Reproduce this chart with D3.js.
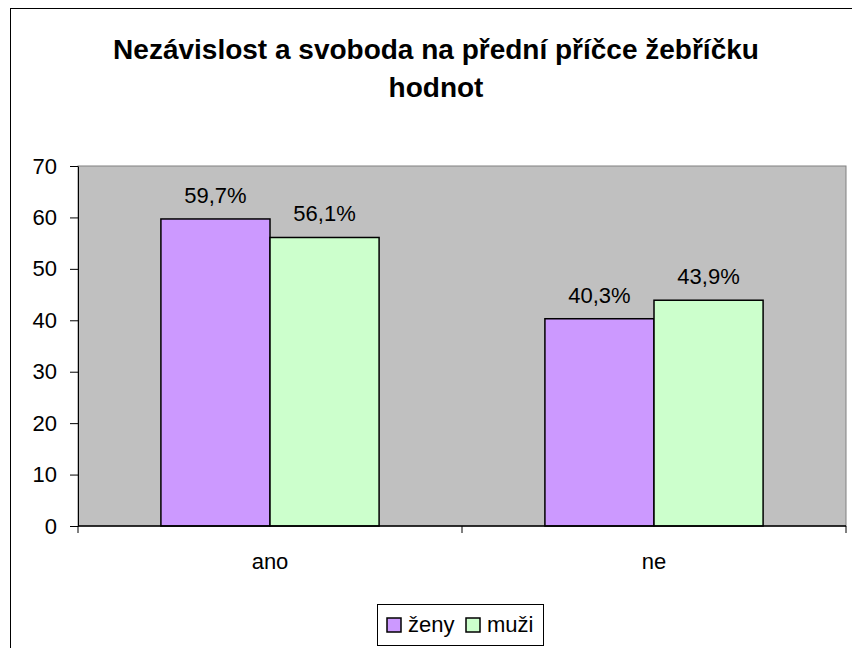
<!DOCTYPE html>
<html>
<head>
<meta charset="utf-8">
<script src="https://cdn.jsdelivr.net/npm/d3@7"></script>
<style>
  html, body { margin: 0; padding: 0; background: #fff; }
  svg { display: block; font-family: Arial, 'Liberation Sans', sans-serif; }
</style>
</head>
<body>
<svg id="chart" width="852" height="648"></svg>
<script>
(function () {
  'use strict';

  const TITLE = ['Nezávislost a svoboda na přední příčce žebříčku', 'hodnot'];
  const CATEGORIES = ['ano', 'ne'];
  const SERIES = ['ženy', 'muži'];
  const ZENY = [59.7, 40.3];
  const MUZI = [56.1, 43.9];
  const Y_TICKS = [0, 10, 20, 30, 40, 50, 60, 70];
  const COLORS = ['#cc99ff', '#ccffcc'];

  const values = [ZENY, MUZI];
  const W = 852, H = 648;
  const plot = { left: 78, right: 846, top: 166, bottom: 526 };
  const FS = '22px';

  const svg = d3.select('#chart');

  // chart frame (runs off the picture on right and bottom)
  svg.append('rect')
    .attr('x', 10.5).attr('y', 8.5).attr('width', W + 20).attr('height', H + 20)
    .attr('fill', '#fff').attr('stroke', '#000').attr('stroke-width', 1);

  // title
  svg.append('text')
    .attr('text-anchor', 'middle')
    .style('font-size', '28px').style('font-weight', 'bold')
    .selectAll('tspan').data(TITLE).enter().append('tspan')
    .attr('x', 436).attr('y', (_, i) => 59 + i * 38)
    .text((d) => d);

  const y = d3.scaleLinear().domain([0, 70]).range([plot.bottom, plot.top]);
  const x0 = d3.scaleBand().domain(CATEGORIES).range([plot.left, plot.right]);
  const x1 = d3.scaleBand().domain(SERIES).range([0, x0.bandwidth()]).paddingOuter(0.76);

  // plot area
  svg.append('rect')
    .attr('x', plot.left).attr('y', plot.top)
    .attr('width', plot.right - plot.left).attr('height', plot.bottom - plot.top)
    .attr('fill', '#c0c0c0').attr('stroke', '#808080').attr('stroke-width', 1);

  // bars
  const groups = svg.selectAll('g.cat').data(CATEGORIES).enter().append('g')
    .attr('class', 'cat')
    .attr('transform', (c) => `translate(${x0(c)},0)`);

  groups.each(function (c, ci) {
    const g = d3.select(this);
    SERIES.forEach((s, si) => {
      const v = values[si][ci];
      g.append('rect')
        .attr('x', x1(s)).attr('y', y(v))
        .attr('width', x1.bandwidth()).attr('height', y(0) - y(v))
        .attr('fill', COLORS[si]).attr('stroke', '#000').attr('stroke-width', 1.5);
      g.append('text')
        .attr('x', x1(s) + x1.bandwidth() / 2).attr('y', y(v) - 16)
        .attr('text-anchor', 'middle')
        .style('font-size', FS).style('fill', '#000')
        .text(v.toFixed(1).replace('.', ',') + '%');
    });
  });

  // y axis
  const yAxis = svg.append('g')
    .attr('transform', `translate(${plot.left},0)`)
    .call(d3.axisLeft(y).tickValues(Y_TICKS).tickSize(8).tickPadding(13).tickSizeOuter(0));
  yAxis.selectAll('text').style('font-size', FS).style('fill', '#000')
    .style('font-family', 'Arial, Liberation Sans, sans-serif');
  yAxis.selectAll('.domain, .tick line').attr('stroke', '#000');

  // x axis: line, ticks at category boundaries, labels in band centres
  const xAxis = svg.append('g').attr('transform', `translate(0,${plot.bottom})`);
  xAxis.append('line')
    .attr('x1', plot.left).attr('x2', plot.right)
    .attr('stroke', '#000').attr('stroke-width', 1.5);
  const bounds = CATEGORIES.map((c) => x0(c)).concat([x0(CATEGORIES[CATEGORIES.length - 1]) + x0.bandwidth()]);
  xAxis.selectAll('line.tk').data(bounds).enter().append('line')
    .attr('class', 'tk')
    .attr('x1', (d) => d).attr('x2', (d) => d)
    .attr('y1', 0).attr('y2', 7)
    .attr('stroke', '#000');
  xAxis.selectAll('text').data(CATEGORIES).enter().append('text')
    .attr('x', (c) => x0(c) + x0.bandwidth() / 2).attr('y', 43)
    .attr('text-anchor', 'middle')
    .style('font-size', FS)
    .text((d) => d);

  // legend
  const legend = svg.append('g');
  legend.append('rect')
    .attr('x', 377.5).attr('y', 604.5).attr('width', 166).attr('height', 41)
    .attr('fill', '#fff').attr('stroke', '#000');
  const lx = [387, 466];
  SERIES.forEach((s, i) => {
    legend.append('rect')
      .attr('x', lx[i]).attr('y', 618).attr('width', 14).attr('height', 14)
      .attr('fill', COLORS[i]).attr('stroke', '#000').attr('stroke-width', 1.5);
    legend.append('text')
      .attr('x', lx[i] + 21).attr('y', 632)
      .style('font-size', FS)
      .text(s);
  });
})();
</script>
</body>
</html>
